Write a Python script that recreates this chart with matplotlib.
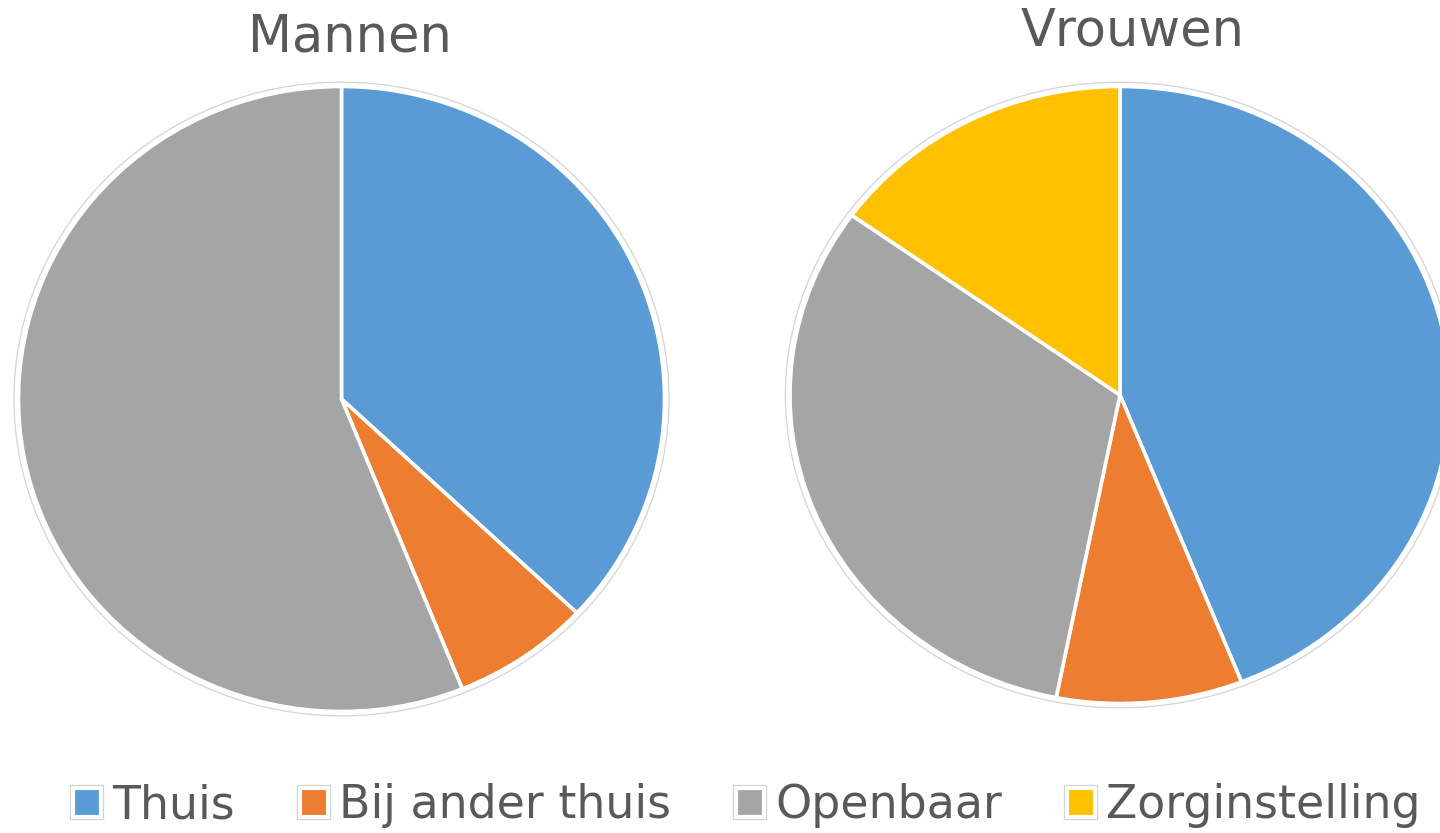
import numpy as np
import matplotlib.pyplot as plt
from matplotlib.patches import Patch, Ellipse
from matplotlib.legend_handler import HandlerTuple

# shares per location (percent)
categories = ['Thuis', 'Bij ander thuis', 'Openbaar', 'Zorginstelling']
mannen = [37.0, 6.9, 56.1, 0.0]
vrouwen = [44.0, 9.1, 31.8, 15.1]
colors = ['#5B9BD5', '#ED7D31', '#A5A5A5', '#FFC000']
text_color = '#595959'

W, H = 1440, 833
fig = plt.figure(figsize=(W / 100, H / 100), dpi=100)


def px_axes(cx, cy, rx, ry):
    # axes box in figure pixels (origin top-left) -> figure fraction
    return fig.add_axes([(cx - rx) / W, 1 - (cy + ry) / H, 2 * rx / W, 2 * ry / H])


def draw_pie(ax, values):
    vals = [v for v in values if v > 0]
    cols = [c for v, c in zip(values, colors) if v > 0]
    ax.pie(vals, colors=cols, startangle=90, counterclock=False,
           wedgeprops=dict(edgecolor='white', linewidth=2.6))
    ax.add_patch(Ellipse((0, 0), 2.028, 2.028, facecolor='none',
                         edgecolor='#d4d4d4', linewidth=0.9, zorder=0,
                         clip_on=False))
    ax.set_aspect('auto')
    ax.set_xlim(-1, 1)
    ax.set_ylim(-1, 1)
    ax.axis('off')


ax1 = px_axes(341.5, 399, 323, 312.5)
draw_pie(ax1, mannen)
ax2 = px_axes(1120, 395, 330, 308.5)
draw_pie(ax2, vrouwen)

fig.text(350 / W, 1 - 52 / H, 'Mannen', ha='center', va='baseline',
         fontsize=36.7, color=text_color)
fig.text(1133 / W, 1 - 45 / H, 'Vrouwen', ha='center', va='baseline',
         fontsize=36.7, color=text_color)

handles = []
for c in colors:
    outer = Patch(facecolor='white', edgecolor='#cfcfcf', linewidth=4.5)
    inner = Patch(facecolor=c, edgecolor='white', linewidth=3)
    handles.append((outer, inner))

fig.legend(handles, categories, loc='center', bbox_to_anchor=(747 / W, 1 - 806 / H),
           ncol=4, frameon=False, fontsize=33, labelcolor=text_color,
           handlelength=0.6, handleheight=0.6, handletextpad=0.25,
           columnspacing=1.42, borderaxespad=0,
           handler_map={tuple: HandlerTuple(ndivide=1, pad=0)})

fig.savefig('out.png', dpi=100, facecolor='white')
